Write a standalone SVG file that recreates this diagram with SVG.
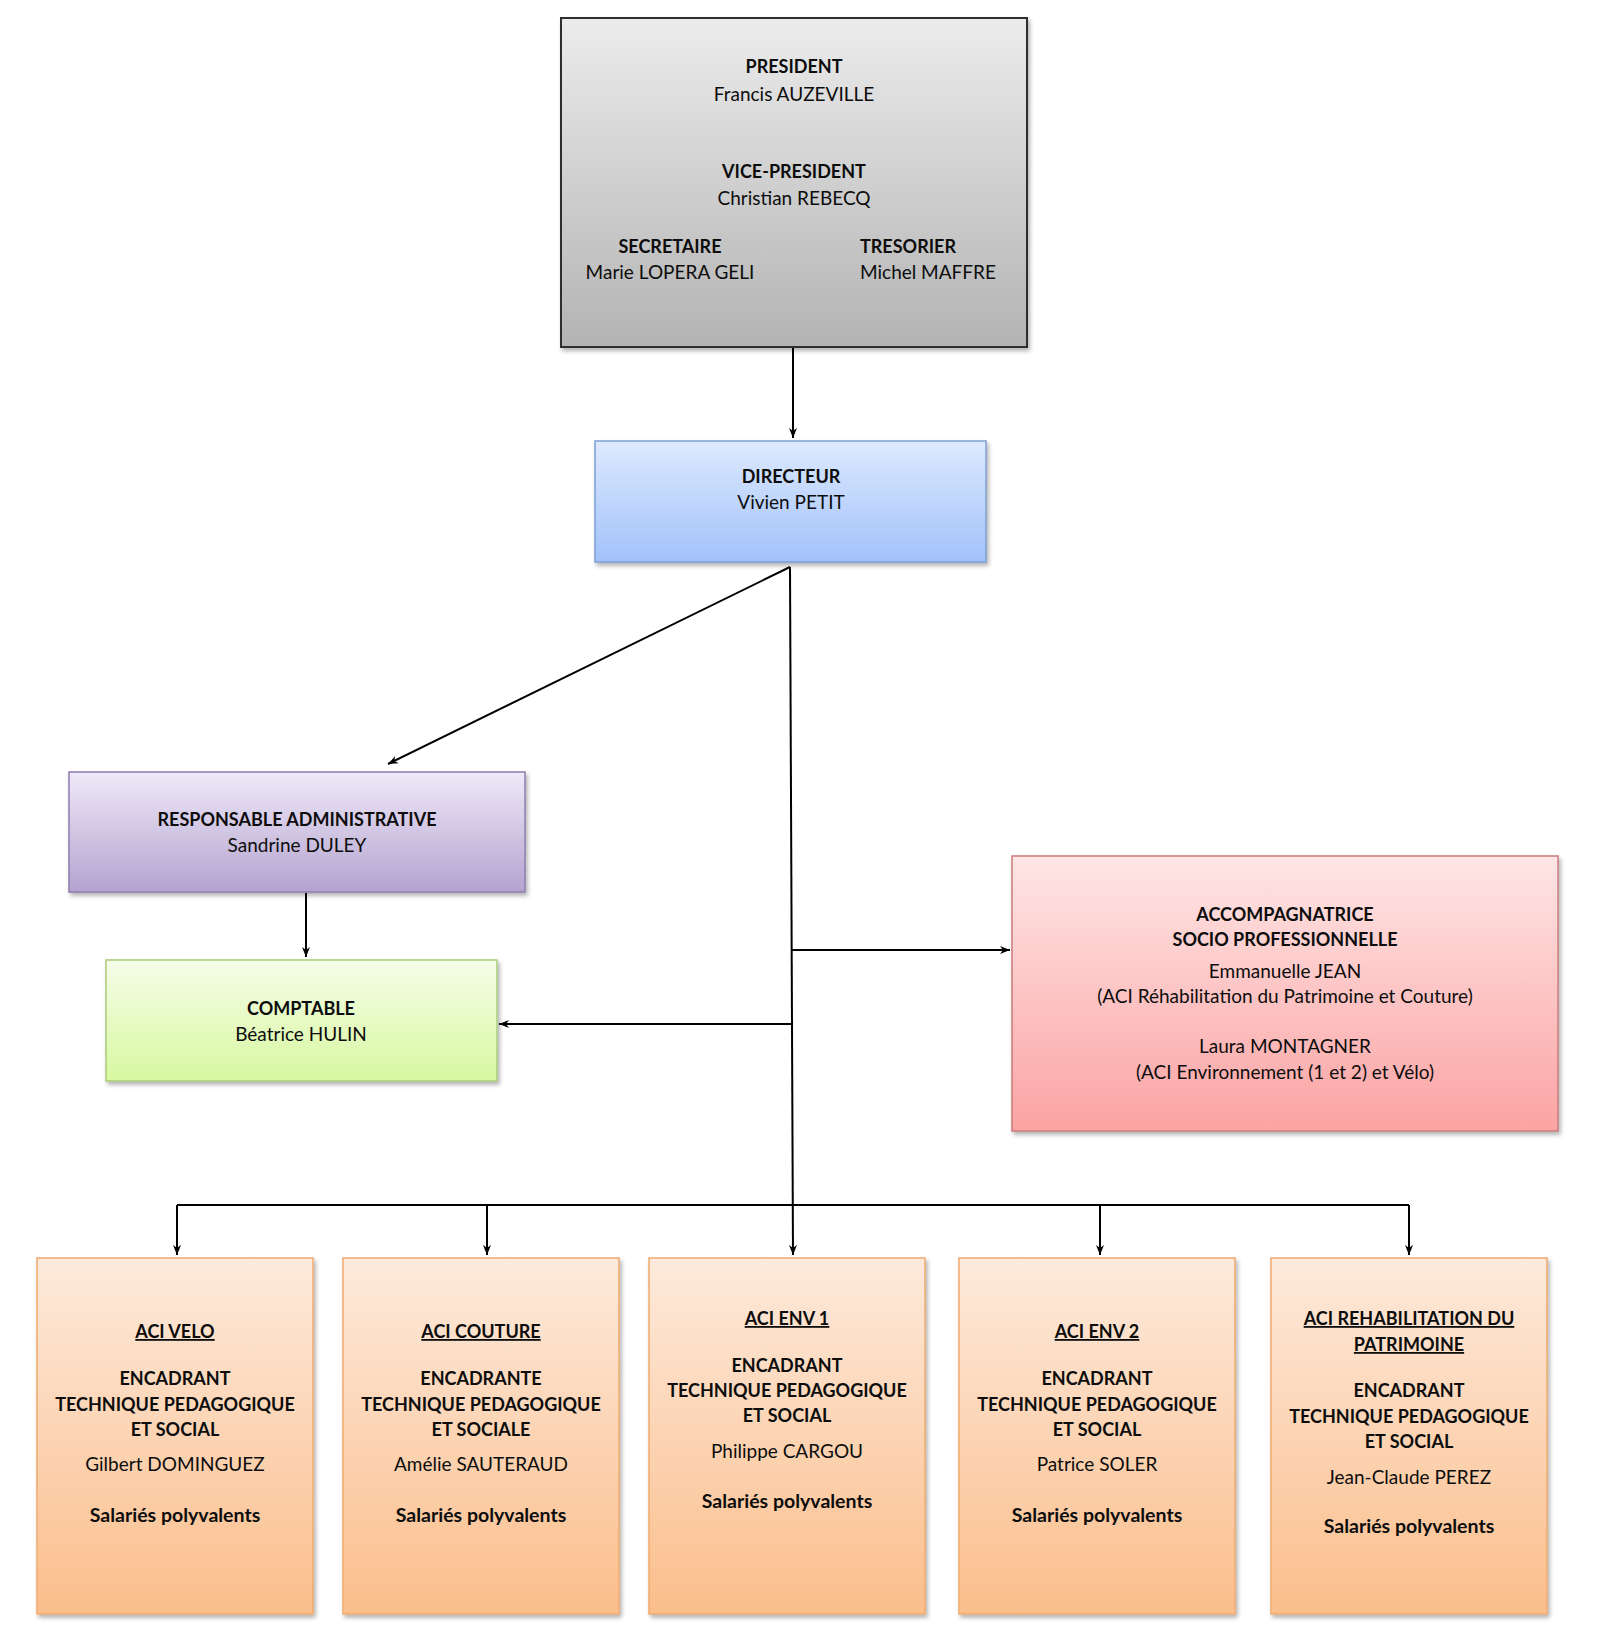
<svg xmlns="http://www.w3.org/2000/svg" width="1602" height="1639" viewBox="0 0 1602 1639">
<defs>
<linearGradient id="gGrey" x1="0" y1="0" x2="0" y2="1"><stop offset="0" stop-color="#ECECEC"/><stop offset="1" stop-color="#B3B3B3"/></linearGradient>
<linearGradient id="gBlue" x1="0" y1="0" x2="0" y2="1"><stop offset="0" stop-color="#DDE9FE"/><stop offset="1" stop-color="#A2C2FA"/></linearGradient>
<linearGradient id="gPurple" x1="0" y1="0" x2="0" y2="1"><stop offset="0" stop-color="#EFE9F8"/><stop offset="1" stop-color="#B3A3CF"/></linearGradient>
<linearGradient id="gGreen" x1="0" y1="0" x2="0" y2="1"><stop offset="0" stop-color="#F5FDE8"/><stop offset="1" stop-color="#D8F8A0"/></linearGradient>
<linearGradient id="gRed" x1="0" y1="0" x2="0" y2="1"><stop offset="0" stop-color="#FFE6E6"/><stop offset="1" stop-color="#FBA3A3"/></linearGradient>
<linearGradient id="gOrange" x1="0" y1="0" x2="0" y2="1"><stop offset="0" stop-color="#FDEADC"/><stop offset="1" stop-color="#FBBE8B"/></linearGradient>
<filter id="sh" x="-5%" y="-5%" width="115%" height="115%"><feDropShadow dx="2" dy="3" stdDeviation="2" flood-color="#000" flood-opacity="0.3"/></filter>
<marker id="arr" viewBox="0 0 10 10" refX="10" refY="5" markerWidth="10" markerHeight="10" markerUnits="userSpaceOnUse" orient="auto"><path d="M0,1 L10,5 L0,9 L3,5 z" fill="#000"/></marker>
</defs>
<style>
text{font-family:Lato,"Liberation Sans",sans-serif;font-size:19px;fill:#0D0D0D;text-anchor:middle}
.b{font-weight:bold;font-size:18px}
.s{font-weight:bold;font-size:19.5px}
.u{text-decoration:underline}
.box{filter:url(#sh)}
.conn{stroke:#000;stroke-width:2;fill:none}
</style>
<rect width="1602" height="1639" fill="#fff"/>
<g id="connectors">
<path class="conn" d="M793,347 L793,438" marker-end="url(#arr)"/>
<path class="conn" d="M790,567 L388,764" marker-end="url(#arr)"/>
<path class="conn" d="M790,567 L793,1255" marker-end="url(#arr)"/>
<path class="conn" d="M306,893 L306,957" marker-end="url(#arr)"/>
<path class="conn" d="M792,950 L1010,950" marker-end="url(#arr)"/>
<path class="conn" d="M792,1024 L499,1024" marker-end="url(#arr)"/>
<path class="conn" d="M177,1205 L1409,1205"/>
<path class="conn" d="M177,1205 L177,1255" marker-end="url(#arr)"/>
<path class="conn" d="M487,1205 L487,1255" marker-end="url(#arr)"/>
<path class="conn" d="M1100,1205 L1100,1255" marker-end="url(#arr)"/>
<path class="conn" d="M1409,1205 L1409,1255" marker-end="url(#arr)"/>
</g>
<g id="bureau">
<rect class="box" x="561" y="18" width="466" height="329" fill="url(#gGrey)" stroke="#2E2E2E" stroke-width="2"/>
<text class="b" x="794" y="73">PRESIDENT</text>
<text x="794" y="101">Francis AUZEVILLE</text>
<text class="b" x="794" y="178">VICE-PRESIDENT</text>
<text x="794" y="205">Christian REBECQ</text>
<text class="b" x="670" y="253">SECRETAIRE</text>
<text x="670" y="279">Marie LOPERA GELI</text>
<text class="b" x="860" y="253" style="text-anchor:start">TRESORIER</text>
<text x="860" y="279" style="text-anchor:start">Michel MAFFRE</text>
</g>
<g id="directeur">
<rect class="box" x="595" y="441" width="391" height="121" fill="url(#gBlue)" stroke="#7D9ED3" stroke-width="1.5"/>
<text class="b" x="791" y="483">DIRECTEUR</text>
<text x="791" y="509">Vivien PETIT</text>
</g>
<g id="responsable-administrative">
<rect class="box" x="69" y="772" width="456" height="120" fill="url(#gPurple)" stroke="#8E7CAE" stroke-width="1.5"/>
<text class="b" x="297" y="826">RESPONSABLE ADMINISTRATIVE</text>
<text x="297" y="852">Sandrine DULEY</text>
</g>
<g id="comptable">
<rect class="box" x="106" y="960" width="391" height="121" fill="url(#gGreen)" stroke="#A9CB7C" stroke-width="1.5"/>
<text class="b" x="301" y="1015">COMPTABLE</text>
<text x="301" y="1041">Béatrice HULIN</text>
</g>
<g id="accompagnatrice">
<rect class="box" x="1012" y="856" width="546" height="275" fill="url(#gRed)" stroke="#C87C7B" stroke-width="1.5"/>
<text class="b" x="1285" y="921">ACCOMPAGNATRICE</text>
<text class="b" x="1285" y="946">SOCIO PROFESSIONNELLE</text>
<text x="1285" y="978">Emmanuelle JEAN</text>
<text x="1285" y="1003">(ACI Réhabilitation du Patrimoine et Couture)</text>
<text x="1285" y="1053">Laura MONTAGNER</text>
<text x="1285" y="1079">(ACI Environnement (1 et 2) et Vélo)</text>
</g>
<g id="aci-velo">
<rect class="box" x="37" y="1258" width="276" height="356" fill="url(#gOrange)" stroke="#F1AA6E" stroke-width="1.5"/>
<text class="b u" x="175" y="1338">ACI VELO</text>
<text class="b" x="175" y="1385">ENCADRANT</text>
<text class="b" x="175" y="1411">TECHNIQUE PEDAGOGIQUE</text>
<text class="b" x="175" y="1436">ET SOCIAL</text>
<text x="175" y="1471">Gilbert DOMINGUEZ</text>
<text class="s" x="175" y="1522">Salariés polyvalents</text>
</g>
<g id="aci-couture">
<rect class="box" x="343" y="1258" width="276" height="356" fill="url(#gOrange)" stroke="#F1AA6E" stroke-width="1.5"/>
<text class="b u" x="481" y="1338">ACI COUTURE</text>
<text class="b" x="481" y="1385">ENCADRANTE</text>
<text class="b" x="481" y="1411">TECHNIQUE PEDAGOGIQUE</text>
<text class="b" x="481" y="1436">ET SOCIALE</text>
<text x="481" y="1471">Amélie SAUTERAUD</text>
<text class="s" x="481" y="1522">Salariés polyvalents</text>
</g>
<g id="aci-env-1">
<rect class="box" x="649" y="1258" width="276" height="356" fill="url(#gOrange)" stroke="#F1AA6E" stroke-width="1.5"/>
<text class="b u" x="787" y="1325">ACI ENV 1</text>
<text class="b" x="787" y="1372">ENCADRANT</text>
<text class="b" x="787" y="1397">TECHNIQUE PEDAGOGIQUE</text>
<text class="b" x="787" y="1422">ET SOCIAL</text>
<text x="787" y="1458">Philippe CARGOU</text>
<text class="s" x="787" y="1508">Salariés polyvalents</text>
</g>
<g id="aci-env-2">
<rect class="box" x="959" y="1258" width="276" height="356" fill="url(#gOrange)" stroke="#F1AA6E" stroke-width="1.5"/>
<text class="b u" x="1097" y="1338">ACI ENV 2</text>
<text class="b" x="1097" y="1385">ENCADRANT</text>
<text class="b" x="1097" y="1411">TECHNIQUE PEDAGOGIQUE</text>
<text class="b" x="1097" y="1436">ET SOCIAL</text>
<text x="1097" y="1471">Patrice SOLER</text>
<text class="s" x="1097" y="1522">Salariés polyvalents</text>
</g>
<g id="aci-rehabilitation">
<rect class="box" x="1271" y="1258" width="276" height="356" fill="url(#gOrange)" stroke="#F1AA6E" stroke-width="1.5"/>
<text class="b u" x="1409" y="1325">ACI REHABILITATION DU</text>
<text class="b u" x="1409" y="1351">PATRIMOINE</text>
<text class="b" x="1409" y="1397">ENCADRANT</text>
<text class="b" x="1409" y="1423">TECHNIQUE PEDAGOGIQUE</text>
<text class="b" x="1409" y="1448">ET SOCIAL</text>
<text x="1409" y="1484">Jean-Claude PEREZ</text>
<text class="s" x="1409" y="1533">Salariés polyvalents</text>
</g>
</svg>
